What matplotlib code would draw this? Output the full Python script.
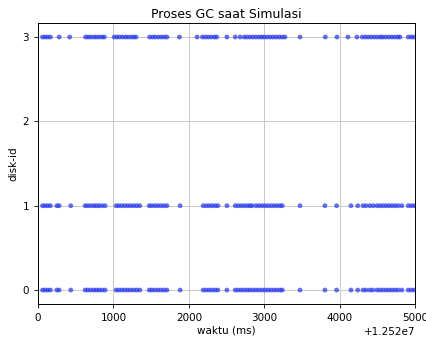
import matplotlib
matplotlib.use("Agg")
import matplotlib.pyplot as plt
import numpy as np

base_time = 12520000

# event timestamps (ms offset from base) per disk id
disk3_times = [60, 95, 130, 165, 280, 420, 630, 665, 700, 740, 775, 810, 850, 880,
               1010, 1045, 1080, 1120, 1160, 1195, 1235, 1270, 1300, 1480, 1520, 1555,
               1595, 1635, 1675, 1710, 1875, 2110, 2180, 2220, 2260, 2300, 2340, 2370,
               2505, 2615, 2680, 2735, 2770, 2810, 2850, 2890, 2930, 2965, 3000, 3040,
               3080, 3120, 3160, 3200, 3240, 3275, 3475, 3810, 3965, 4110, 4230, 4300,
               4340, 4380, 4420, 4460, 4500, 4540, 4570, 4610, 4650, 4690, 4730, 4770,
               4800, 4910, 4950, 4985]
disk1_times = [60, 95, 130, 165, 250, 280, 435, 625, 660, 700, 740, 775, 810, 850, 890,
               1035, 1070, 1110, 1150, 1190, 1230, 1270, 1310, 1350, 1475, 1510, 1550,
               1590, 1630, 1670, 1710, 1885, 2190, 2230, 2270, 2310, 2350, 2385, 2505,
               2615, 2655, 2695, 2735, 2775, 2810, 2840, 2890, 2930, 2970, 3010, 3050,
               3090, 3130, 3170, 3210, 3240, 3475, 3805, 3960, 4150, 4240, 4310, 4350,
               4400, 4445, 4495, 4535, 4575, 4615, 4655, 4695, 4735, 4775, 4825, 4910,
               4950, 4990]
disk0_times = [60, 95, 130, 165, 250, 280, 435, 625, 660, 700, 740, 775, 810, 850, 890,
               1035, 1070, 1110, 1150, 1190, 1230, 1270, 1310, 1350, 1475, 1510, 1550,
               1590, 1630, 1670, 1710, 1885, 2190, 2230, 2270, 2310, 2350, 2385, 2505,
               2615, 2655, 2695, 2735, 2775, 2810, 2850, 2890, 2930, 2970, 3010, 3050,
               3090, 3130, 3170, 3210, 3240, 3475, 3805, 3960, 4150, 4240, 4310, 4350,
               4400, 4440, 4495, 4535, 4575, 4615, 4655, 4695, 4735, 4775, 4825, 4910,
               4950, 4990]

series = {0: disk0_times, 1: disk1_times, 3: disk3_times}
y_ticks = [0, 1, 2, 3]

fig = plt.figure(figsize=(4.27, 3.4), dpi=100)
ax = fig.add_axes([0.089, 0.106, 0.883, 0.826])

for disk, times in series.items():
    t = base_time + np.array(times)
    ax.scatter(t, np.full(len(t), disk), s=12, color="#2233ee", alpha=0.7,
               edgecolors="none", zorder=3)

ax.set_xlim(base_time, base_time + 5000)
ax.set_ylim(-0.165, 3.165)
ax.set_yticks(y_ticks)
ax.set_xticks([base_time + v for v in range(0, 5001, 1000)])
ax.grid(True, color="#c8c8c8", linewidth=0.7)
ax.set_axisbelow(True)
ax.tick_params(labelsize=7.5, length=3, width=0.6)
ax.xaxis.get_offset_text().set_fontsize(7.5)
for s in ax.spines.values():
    s.set_linewidth(0.7)
ax.set_title("Proses GC saat Simulasi", fontsize=9, pad=4)
ax.set_xlabel("waktu (ms)", fontsize=7.5, labelpad=2)
ax.set_ylabel("disk-id", fontsize=7.5, labelpad=3)

fig.savefig("out.png", dpi=100)
